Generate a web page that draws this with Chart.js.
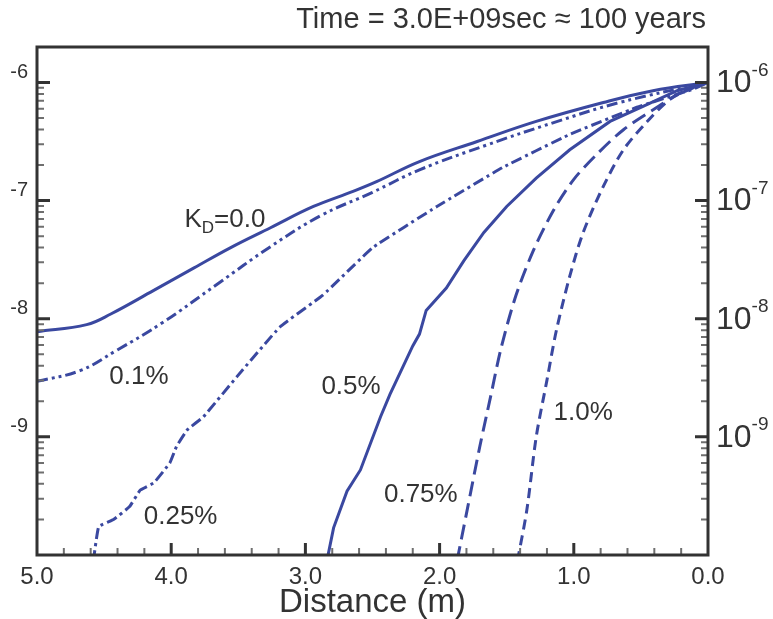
<!DOCTYPE html>
<html>
<head>
<meta charset="utf-8">
<script src="https://cdn.jsdelivr.net/npm/chart.js@4"></script>
<style>
  html, body { margin: 0; padding: 0; background: #fff; }
  #wrap { width: 773px; height: 619px; }
</style>
</head>
<body>
<div id="wrap"><canvas id="conc-chart" width="773" height="619"></canvas></div>
<script>
// data: distance (m) and log10 concentration
const kd00Dist = [5.0, 4.63, 4.45, 4.13, 3.83, 3.56, 3.26, 2.94, 2.64, 2.47, 2.15, 1.72, 1.28, 0.78, 0.41, 0.0];
const kd00Log  = [-8.11, -8.05, -7.96, -7.76, -7.57, -7.40, -7.23, -7.05, -6.92, -6.84, -6.67, -6.50, -6.33, -6.17, -6.07, -6.0];

const kd01Dist = [5.0, 4.68, 4.41, 4.06, 3.66, 3.26, 2.89, 2.50, 2.15, 1.65, 1.15, 0.66, 0.0];
const kd01Log  = [-8.53, -8.44, -8.27, -8.03, -7.71, -7.39, -7.13, -6.93, -6.74, -6.53, -6.34, -6.17, -6.0];

const kd025Dist = [4.58, 4.54, 4.43, 4.31, 4.23, 4.13, 4.01, 3.96, 3.88, 3.76, 3.51, 3.19, 2.87, 2.50, 2.02, 1.53, 1.03, 0.53, 0.12, 0.0];
const kd025Log  = [-10.05, -9.76, -9.70, -9.59, -9.45, -9.39, -9.22, -9.08, -8.94, -8.83, -8.49, -8.07, -7.80, -7.40, -7.05, -6.72, -6.44, -6.21, -6.06, -6.0];

const kd05Dist = [2.84, 2.79, 2.69, 2.59, 2.44, 2.37, 2.20, 2.15, 2.10, 1.95, 1.82, 1.67, 1.50, 1.28, 1.03, 0.73, 0.48, 0.23, 0.0];
const kd05Log  = [-10.05, -9.77, -9.46, -9.28, -8.83, -8.64, -8.23, -8.13, -7.93, -7.74, -7.51, -7.27, -7.05, -6.81, -6.57, -6.33, -6.20, -6.07, -6.0];

const kd075Dist = [1.87, 1.80, 1.70, 1.62, 1.54, 1.43, 1.30, 1.15, 1.00, 0.83, 0.63, 0.38, 0.21, 0.0];
const kd075Log  = [-10.05, -9.65, -9.08, -8.66, -8.24, -7.80, -7.42, -7.08, -6.82, -6.61, -6.40, -6.21, -6.09, -6.0];

const kd10Dist = [1.42, 1.35, 1.28, 1.20, 1.13, 1.03, 0.93, 0.78, 0.63, 0.46, 0.28, 0.10, 0.0];
const kd10Log  = [-10.05, -9.62, -9.00, -8.52, -8.10, -7.64, -7.27, -6.88, -6.57, -6.34, -6.14, -6.04, -6.0];

// axis ticks
const xTicks = [5, 4, 3, 2, 1, 0];
const yTicks = [-6, -7, -8, -9];
const rightExp = ['-6', '-7', '-8', '-9'];

// curve labels, placed in data units
const curveLabels = [
    { text: 'K', sub: 'D', rest: '=0.0', x: 3.60, y: -7.16 },
    { text: '0.1%', x: 4.24, y: -8.49 },
    { text: '0.25%', x: 3.93, y: -9.68 },
    { text: '0.5%', x: 2.66, y: -8.58 },
    { text: '0.75%', x: 2.14, y: -9.49 },
    { text: '1.0%', x: 0.93, y: -8.80 }
];
const titleText = 'Time = 3.0E+09sec \u2248 100 years';

const lineColor = '#3a48a0';
const inkColor = '#333333';
const labelFont = '"Liberation Sans", Arial, sans-serif';

function toPoints(xs, ys) {
    return xs.map((x, i) => ({ x: x, y: ys[i] }));
}

function series(xs, ys, dash, tension) {
    return {
        data: toPoints(xs, ys),
        borderColor: lineColor,
        borderWidth: 3,
        borderDash: dash,
        pointRadius: 0,
        tension: tension,
        fill: false
    };
}

// inward ticks + frame + texts
const decorPlugin = {
    id: 'decor',
    afterDatasetsDraw(chart) {
        const ctx = chart.ctx;
        const area = chart.chartArea;
        const xs = chart.scales.x;
        const ys = chart.scales.y;
        const ys2 = chart.scales.y2;
        ctx.save();

        // minor ticks (log spaced inside each decade)
        ctx.lineCap = 'butt';
        for (let k = -10; k < -6; k++) {
            for (let m = 2; m <= 9; m++) {
                const py = ys.getPixelForValue(k + Math.log10(m));
                ctx.strokeStyle = '#6f6f6f';
                ctx.lineWidth = 2;
                ctx.beginPath();
                ctx.moveTo(area.left, py); ctx.lineTo(area.left + 7, py);
                ctx.moveTo(area.right, py); ctx.lineTo(area.right - 7, py);
                ctx.stroke();
            }
        }
        // major y ticks
        for (let k = -9; k <= -6; k++) {
            const py = ys.getPixelForValue(k);
            ctx.strokeStyle = inkColor;
            ctx.lineWidth = 3;
            ctx.beginPath();
            ctx.moveTo(area.left, py); ctx.lineTo(area.left + 13, py);
            ctx.moveTo(area.right, py); ctx.lineTo(area.right - 13, py);
            ctx.stroke();
        }
        // x ticks
        for (let i = 1; i < 25; i++) {
            const v = i * 0.2;
            const px = xs.getPixelForValue(v);
            const major = i % 5 === 0;
            ctx.strokeStyle = major ? inkColor : '#6f6f6f';
            ctx.lineWidth = major ? 3 : 2;
            ctx.beginPath();
            ctx.moveTo(px, area.bottom);
            ctx.lineTo(px, area.bottom - (major ? 12 : 7));
            ctx.stroke();
        }

        // frame
        ctx.strokeStyle = inkColor;
        ctx.lineWidth = 3;
        ctx.strokeRect(area.left, area.top, area.right - area.left, area.bottom - area.top);

        ctx.fillStyle = inkColor;
        ctx.textBaseline = 'middle';

        // right axis labels 10^n
        yTicks.forEach((v, i) => {
            const py = ys2.getPixelForValue(v);
            const x0 = ys2.left + 8;
            ctx.textAlign = 'left';
            ctx.font = '32px ' + labelFont;
            ctx.fillText('10', x0, py + 1);
            const w = ctx.measureText('10').width;
            ctx.font = '19px ' + labelFont;
            ctx.fillText(rightExp[i], x0 + w, py - 12);
        });

        // curve labels
        curveLabels.forEach(l => {
            const px = xs.getPixelForValue(l.x);
            const py = ys.getPixelForValue(l.y);
            ctx.font = '26px ' + labelFont;
            if (l.sub) {
                const w1 = ctx.measureText(l.text).width;
                const w3 = ctx.measureText(l.rest).width;
                ctx.font = '17px ' + labelFont;
                const w2 = ctx.measureText(l.sub).width;
                let x0 = px - (w1 + w2 + w3) / 2;
                ctx.textAlign = 'left';
                ctx.font = '26px ' + labelFont;
                ctx.fillText(l.text, x0, py);
                ctx.font = '17px ' + labelFont;
                ctx.fillText(l.sub, x0 + w1, py + 9);
                ctx.font = '26px ' + labelFont;
                ctx.fillText(l.rest, x0 + w1 + w2, py);
            } else {
                ctx.textAlign = 'center';
                ctx.fillText(l.text, px, py);
            }
        });

        // title, right aligned with the plot
        ctx.font = '29px ' + labelFont;
        ctx.textAlign = 'right';
        ctx.textBaseline = 'middle';
        ctx.fillText(titleText, area.right - 2, 20);
        ctx.restore();
    }
};

const ctx = document.getElementById('conc-chart').getContext('2d');
const concChart = new Chart(ctx, {
    type: 'line',
    data: {
        datasets: [
            series(kd00Dist, kd00Log, [], 0.4),
            series(kd01Dist, kd01Log, [11, 4, 3, 4, 3, 4], 0.4),
            series(kd025Dist, kd025Log, [11, 4, 3, 4], 0.1),
            series(kd05Dist, kd05Log, [], 0),
            series(kd075Dist, kd075Log, [15, 7], 0.3),
            series(kd10Dist, kd10Log, [10, 6], 0.3)
        ]
    },
    plugins: [decorPlugin],
    options: {
        responsive: false,
        animation: false,
        devicePixelRatio: 1,
        layout: { padding: { top: 47, left: 0, right: 0, bottom: 0 } },
        plugins: {
            legend: { display: false },
            tooltip: { enabled: false }
        },
        scales: {
            x: {
                type: 'linear',
                min: 0,
                max: 5,
                reverse: true,
                afterFit: s => { s.height = 64; },
                grid: { display: false },
                border: { display: false },
                afterBuildTicks: s => { s.ticks = xTicks.map(v => ({ value: v })); },
                ticks: {
                    color: inkColor,
                    font: { family: labelFont, size: 24 },
                    padding: 0,
                    maxRotation: 0,
                    callback: v => Number(v).toFixed(1)
                },
                title: {
                    display: true,
                    text: 'Distance (m)',
                    color: inkColor,
                    font: { family: labelFont, size: 33, lineHeight: 1.0 },
                    padding: { top: 0, bottom: 0 }
                }
            },
            y: {
                type: 'linear',
                position: 'left',
                min: -10,
                max: -5.7,
                afterFit: s => { s.width = 37; },
                grid: { display: false, drawTicks: false },
                border: { display: false },
                afterBuildTicks: s => { s.ticks = yTicks.map(v => ({ value: v })); },
                ticks: {
                    color: inkColor,
                    font: { family: labelFont, size: 20 },
                    padding: 9,
                    labelOffset: -10,
                    callback: v => String(v)
                }
            },
            y2: {
                type: 'linear',
                position: 'right',
                min: -10,
                max: -5.7,
                afterFit: s => { s.width = 65; },
                grid: { display: false },
                border: { display: false },
                ticks: { display: false }
            }
        }
    }
});
</script>
</body>
</html>
